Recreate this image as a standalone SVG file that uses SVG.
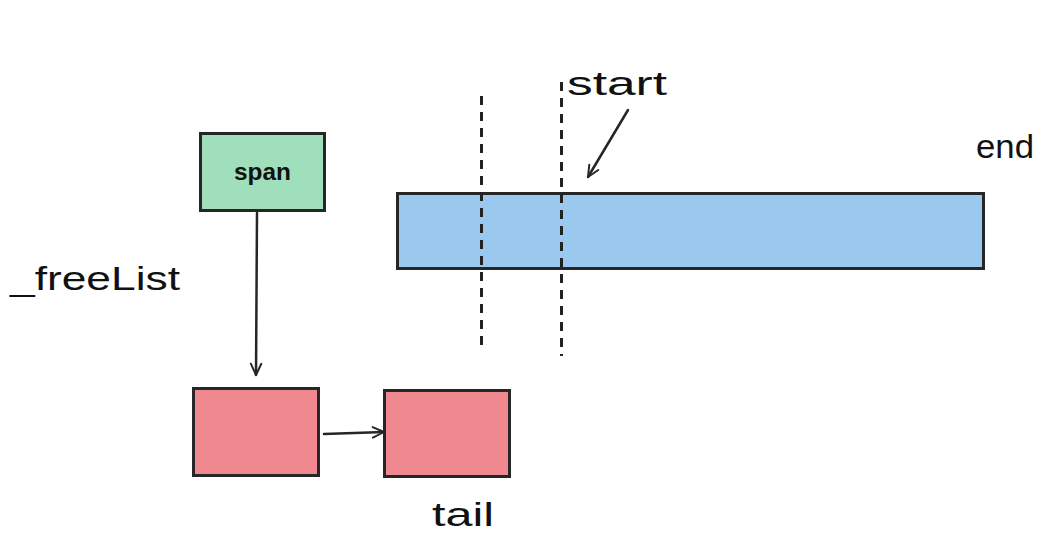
<svg xmlns="http://www.w3.org/2000/svg" width="1056" height="541" viewBox="0 0 1056 541">
<style>
.box{stroke:#262626;stroke-width:3}
.hand{font-family:"Liberation Sans","DejaVu Sans",sans-serif;font-size:34px;fill:#111}
.edge{stroke:#262626;stroke-width:2.5;fill:none;stroke-linecap:round}
.dash{stroke:#222;stroke-width:3;stroke-dasharray:9 7;fill:none}
</style>
<defs>
<marker id="ah" viewBox="0 0 20 20" refX="18" refY="10" markerWidth="15" markerHeight="15" markerUnits="userSpaceOnUse" orient="auto">
<path d="M3,3 L18,10 L3,17" fill="none" stroke="#262626" stroke-width="2.6" stroke-linecap="round" stroke-linejoin="round"/>
</marker>
</defs>
<rect width="1056" height="541" fill="#fff"/>
<g id="bar">
<rect class="box" x="397.5" y="193.5" width="586" height="75" fill="#9ac8ee"/>
</g>
<g id="dashes">
<line class="dash" x1="481.5" y1="96" x2="481.5" y2="346"/>
<line class="dash" x1="561.5" y1="82" x2="561.5" y2="356"/>
</g>
<g id="span">
<rect class="box" x="200.5" y="133.5" width="124" height="77" fill="#9fdfbb"/>
<text x="262.5" y="180" text-anchor="middle" font-family="Liberation Sans, Arial, sans-serif" font-weight="bold" font-size="23" fill="#111" textLength="57" lengthAdjust="spacingAndGlyphs">span</text>
</g>
<g id="node1">
<rect class="box" x="193.5" y="388.5" width="125" height="87" fill="#f08890"/>
</g>
<g id="node2">
<rect class="box" x="384.5" y="390.5" width="125" height="86" fill="#f08890"/>
</g>
<g id="labels">
<text class="hand" x="567" y="95" textLength="100" lengthAdjust="spacingAndGlyphs">start</text>
<text class="hand" x="976" y="158" font-size="30" textLength="58" lengthAdjust="spacingAndGlyphs">end</text>
<text class="hand" x="10" y="290" textLength="170" lengthAdjust="spacingAndGlyphs">_freeList</text>
<text class="hand" x="432" y="526" textLength="62" lengthAdjust="spacingAndGlyphs">tail</text>
</g>
<g id="connectors">
<line class="edge" x1="257" y1="213" x2="256" y2="375" marker-end="url(#ah)"/>
<line class="edge" x1="324" y1="434" x2="384" y2="432" marker-end="url(#ah)"/>
<line class="edge" x1="628" y1="110" x2="588" y2="177" marker-end="url(#ah)"/>
</g>
</svg>
